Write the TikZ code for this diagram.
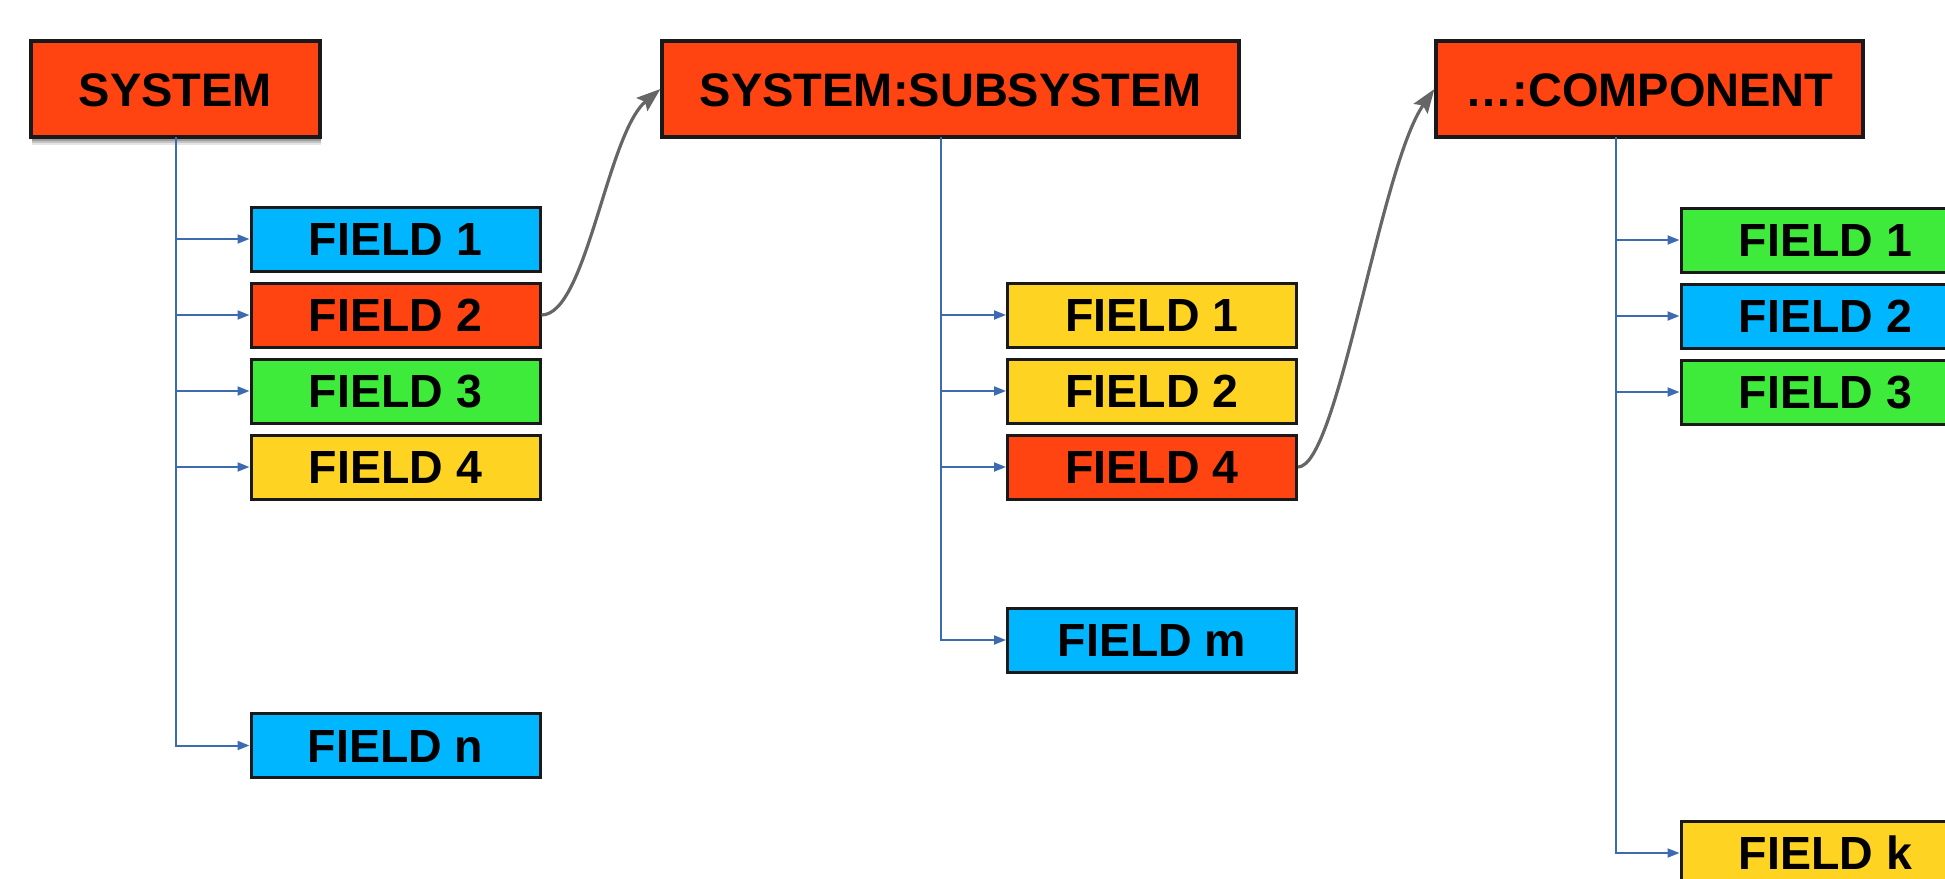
\documentclass[tikz,border=0pt]{standalone}
\usepackage{fontspec}
\setmainfont{Liberation Sans}
\usetikzlibrary{arrows.meta,shadows}
\definecolor{cred}{HTML}{FF4411}
\definecolor{cblue}{HTML}{00B7FF}
\definecolor{cgreen}{HTML}{3FEB3A}
\definecolor{cyellow}{HTML}{FFD321}
\definecolor{cline}{HTML}{3D6BB0}
\definecolor{ccurve}{HTML}{666666}
\begin{document}
\begin{tikzpicture}[x=1pt,y=1pt,
  box/.style={draw=black!90, line width=3.2pt, inner sep=0pt, minimum height=96pt,
    font=\fontsize{47}{50}\selectfont\bfseries, text height=34pt, text depth=0pt},
  fieldbox/.style={draw=black!90, line width=3pt, inner sep=0pt, minimum width=289pt, minimum height=64pt,
    font=\fontsize{46.5}{50}\selectfont\bfseries, text height=33.5pt, text depth=0pt},
  conn/.style={draw=cline, line width=2pt, -{Triangle[length=12pt,width=9pt]}},
  jump/.style={draw=ccurve, line width=3.2pt, -{Stealth[length=24pt,width=17pt,inset=4pt]}}
]
\useasboundingbox (0,0) rectangle (1945,-878);
\clip (0,0) rectangle (1945,-878);

% column 1
\node[box, fill=cred, minimum width=289pt,
  drop shadow={shadow xshift=1pt, shadow yshift=-8pt, opacity=0.10, fill=black},
  drop shadow={shadow xshift=1pt, shadow yshift=-6pt, opacity=0.15, fill=black},
  drop shadow={shadow xshift=1pt, shadow yshift=-4pt, opacity=0.2, fill=black},
  drop shadow={shadow xshift=0pt, shadow yshift=-2pt, opacity=0.25, fill=black}] (sys) at (175.5,-89) {SYSTEM};
\node[fieldbox, fill=cblue]   (s1) at (395.5,-239) {FIELD 1};
\node[fieldbox, fill=cred]    (s2) at (395.5,-315) {FIELD 2};
\node[fieldbox, fill=cgreen]  (s3) at (395.5,-391) {FIELD 3};
\node[fieldbox, fill=cyellow] (s4) at (395.5,-467) {FIELD 4};
\node[fieldbox, fill=cblue]   (sn) at (395.5,-745.5) {FIELD n};
\coordinate (t1) at (175.5,-137);
\draw[conn] (t1) |- (sn.west);
\foreach \f in {s1,s2,s3,s4} \draw[conn] (t1) |- (\f.west);

% column 2
\node[box, fill=cred, minimum width=577pt] (sub) at (950.5,-89) {SYSTEM:SUBSYSTEM};
\node[fieldbox, fill=cyellow] (u1) at (1152,-315) {FIELD 1};
\node[fieldbox, fill=cyellow] (u2) at (1152,-391) {FIELD 2};
\node[fieldbox, fill=cred]    (u4) at (1152,-467) {FIELD 4};
\node[fieldbox, fill=cblue]   (um) at (1152,-640) {FIELD m};
\coordinate (t2) at (941,-137);
\draw[conn] (t2) |- (um.west);
\foreach \f in {u1,u2,u4} \draw[conn] (t2) |- (\f.west);

% column 3
\node[box, fill=cred, minimum width=427pt] (cmp) at (1649.5,-89) {…:COMPONENT};
\node[fieldbox, fill=cgreen]  (c1) at (1825.5,-240) {FIELD 1};
\node[fieldbox, fill=cblue]   (c2) at (1825.5,-316) {FIELD 2};
\node[fieldbox, fill=cgreen]  (c3) at (1825.5,-392) {FIELD 3};
\node[fieldbox, fill=cyellow] (ck) at (1825.5,-853) {FIELD k};
\coordinate (t3) at (1615.5,-137);
\draw[conn] (t3) |- (ck.west);
\foreach \f in {c1,c2,c3} \draw[conn] (t3) |- (\f.west);

% jumps
\draw[jump] (s2.east) to[out=0, in=220, out distance=45pt, in distance=70pt] (sub.west);
\draw[jump] (u4.east) to[out=0, in=235, out distance=40pt, in distance=95pt] (cmp.west);
\end{tikzpicture}
\end{document}
